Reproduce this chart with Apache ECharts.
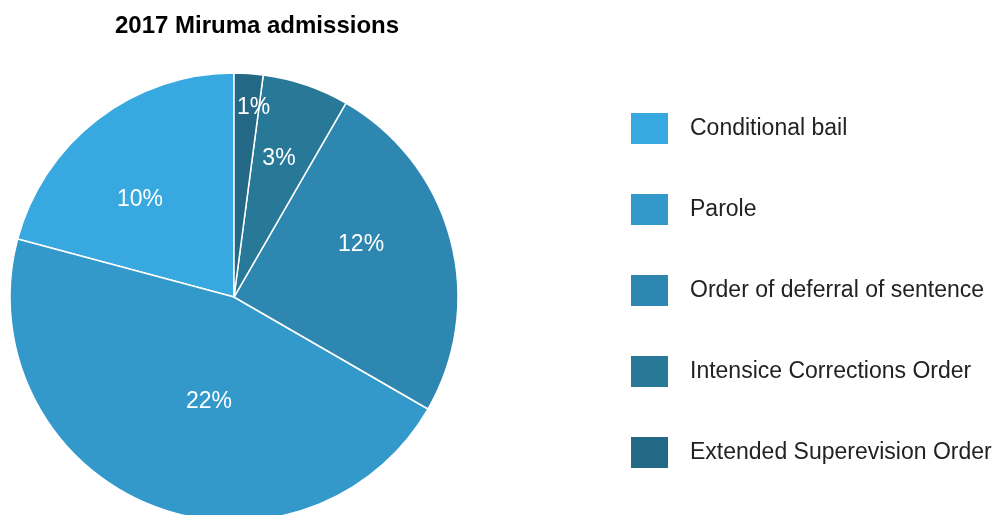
<!DOCTYPE html>
<html>
<head>
<meta charset="utf-8">
<script src="https://cdn.jsdelivr.net/npm/echarts@6/dist/echarts.min.js"></script>
<style>html,body{margin:0;padding:0;background:#fff}#c{width:994px;height:515px}</style>
</head>
<body>
<div id="c"></div>
<script>
const title = '2017 Miruma admissions';
const categories = ['Conditional bail', 'Parole', 'Order of deferral of sentence', 'Intensice Corrections Order', 'Extended Superevision Order'];
const values = [10, 22, 12, 3, 1];
const colors = ['#38a9e0', '#3399cb', '#2e87b0', '#287898', '#236985'];
// label nudges relative to the default inside position (px)
const labelNudgeX = [-24, 19, 16, 8, 12];
const labelNudgeY = [-6, -2, -23, -29, -75];

const chart = echarts.init(document.getElementById('c'));
chart.setOption({
  animation: false,
  title: {
    text: title, left: 252, textAlign: 'center', top: 9,
    textStyle: {fontFamily: 'Liberation Sans', fontSize: 24, fontWeight: 'bold', color: '#000'}
  },
  legend: {
    orient: 'vertical', left: 631, top: 113, padding: 0,
    itemWidth: 37, itemHeight: 31, itemGap: 50, icon: 'rect',
    itemStyle: {borderWidth: 0},
    data: categories,
    textStyle: {fontFamily: 'Liberation Sans', fontSize: 23, color: '#222', padding: [0, 0, 0, 17]}
  },
  series: [{
    type: 'pie', center: [234, 297], radius: 224, clockwise: false, startAngle: 90,
    label: {show: true, position: 'inside', formatter: '{c}%', color: '#fff', fontFamily: 'Liberation Sans', fontSize: 23},
    labelLine: {show: false},
    labelLayout: function (p) { return {dx: labelNudgeX[p.dataIndex], dy: labelNudgeY[p.dataIndex]}; },
    itemStyle: {borderColor: '#fff', borderWidth: 1.5},
    emphasis: {disabled: true},
    data: categories.map((n, i) => ({name: n, value: values[i], itemStyle: {color: colors[i]}}))
  }]
});
</script>
</body>
</html>
